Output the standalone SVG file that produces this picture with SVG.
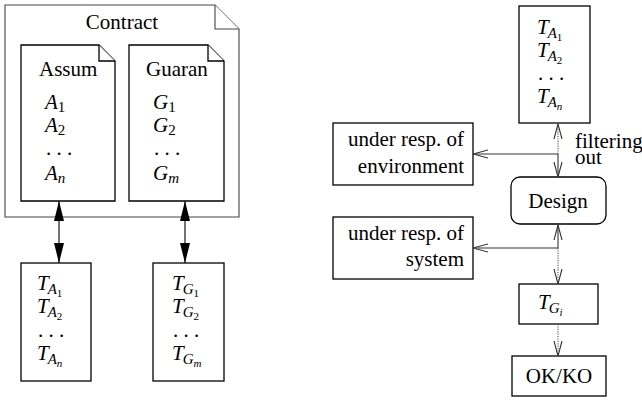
<svg xmlns="http://www.w3.org/2000/svg" width="642" height="401" viewBox="0 0 642 401">
<defs>
<marker id="fa" viewBox="0 0 20 10" refX="20" refY="5" markerWidth="20" markerHeight="10" markerUnits="userSpaceOnUse" orient="auto-start-reverse">
<path d="M0,0 L20,5 L0,10 Z" fill="#000"/>
</marker>
<marker id="oa" viewBox="0 0 15 10" refX="15" refY="5" markerWidth="15" markerHeight="10" markerUnits="userSpaceOnUse" orient="auto-start-reverse">
<path d="M0,1 L15,5 L0,9" fill="none" stroke="#333" stroke-width="1.1"/>
</marker>
</defs>

<g id="contract">
<path fill="#fff" stroke="#444" stroke-width="1.1" d="M5,5 H215 L239,29 V217 H5 Z"/>
<path fill="#fff" stroke="#444" stroke-width="1.1" d="M215,5 V29 H239"/>
<text font-family="serif" font-size="21" x="122" y="29" text-anchor="middle">Contract</text>
</g>

<g id="assum">
<path fill="#fff" stroke="#000" stroke-width="1.3" d="M21,45 H99 L115,61 V201 H21 Z"/>
<path fill="#fff" stroke="#000" stroke-width="1.3" d="M99,45 V61 H115"/>
<text font-family="serif" font-size="21" x="39" y="76">Assum</text>
<text font-family="serif" font-size="21" font-style="italic" x="45" y="109">A<tspan font-style="normal" font-size="15" dy="3">1</tspan></text>
<text font-family="serif" font-size="21" font-style="italic" x="45" y="132">A<tspan font-style="normal" font-size="15" dy="3">2</tspan></text>
<text font-family="serif" font-size="21" x="46" y="155">. . .</text>
<text font-family="serif" font-size="21" font-style="italic" x="45" y="180">A<tspan font-size="15" dy="3">n</tspan></text>
</g>

<g id="guaran">
<path fill="#fff" stroke="#000" stroke-width="1.3" d="M129,45 H208 L224,61 V201 H129 Z"/>
<path fill="#fff" stroke="#000" stroke-width="1.3" d="M208,45 V61 H224"/>
<text font-family="serif" font-size="21" x="146" y="76">Guaran</text>
<text font-family="serif" font-size="21" font-style="italic" x="153" y="109">G<tspan font-style="normal" font-size="15" dy="3">1</tspan></text>
<text font-family="serif" font-size="21" font-style="italic" x="153" y="132">G<tspan font-style="normal" font-size="15" dy="3">2</tspan></text>
<text font-family="serif" font-size="21" x="154" y="155">. . .</text>
<text font-family="serif" font-size="21" font-style="italic" x="153" y="180">G<tspan font-size="15" dy="3">m</tspan></text>
</g>

<g id="ta-left">
<rect fill="#fff" stroke="#000" stroke-width="1.3" x="21" y="263" width="70" height="118"/>
<text font-family="serif" font-size="21" font-style="italic" x="37" y="290">T<tspan font-size="15" dy="4" dx="-1">A</tspan><tspan font-style="normal" font-size="11" dy="3">1</tspan></text>
<text font-family="serif" font-size="21" font-style="italic" x="37" y="313">T<tspan font-size="15" dy="4" dx="-1">A</tspan><tspan font-style="normal" font-size="11" dy="3">2</tspan></text>
<text font-family="serif" font-size="21" x="38" y="337">. . .</text>
<text font-family="serif" font-size="21" font-style="italic" x="37" y="360">T<tspan font-size="15" dy="4" dx="-1">A</tspan><tspan font-size="11" dy="3">n</tspan></text>
</g>

<g id="tg-left">
<rect fill="#fff" stroke="#000" stroke-width="1.3" x="153" y="263" width="71" height="118"/>
<text font-family="serif" font-size="21" font-style="italic" x="172" y="290">T<tspan font-size="15" dy="4" dx="-1">G</tspan><tspan font-style="normal" font-size="11" dy="3">1</tspan></text>
<text font-family="serif" font-size="21" font-style="italic" x="172" y="313">T<tspan font-size="15" dy="4" dx="-1">G</tspan><tspan font-style="normal" font-size="11" dy="3">2</tspan></text>
<text font-family="serif" font-size="21" x="173" y="337">. . .</text>
<text font-family="serif" font-size="21" font-style="italic" x="172" y="360">T<tspan font-size="15" dy="4" dx="-1">G</tspan><tspan font-size="11" dy="3">m</tspan></text>
</g>

<g id="ta-right">
<rect fill="#fff" stroke="#000" stroke-width="1.3" x="519" y="6" width="71" height="117"/>
<text font-family="serif" font-size="21" font-style="italic" x="537" y="34">T<tspan font-size="15" dy="4" dx="-1">A</tspan><tspan font-style="normal" font-size="11" dy="3">1</tspan></text>
<text font-family="serif" font-size="21" font-style="italic" x="537" y="57">T<tspan font-size="15" dy="4" dx="-1">A</tspan><tspan font-style="normal" font-size="11" dy="3">2</tspan></text>
<text font-family="serif" font-size="21" x="538" y="80">. . .</text>
<text font-family="serif" font-size="21" font-style="italic" x="537" y="103">T<tspan font-size="15" dy="4" dx="-1">A</tspan><tspan font-size="11" dy="3">n</tspan></text>
</g>

<g id="env">
<rect fill="#fff" stroke="#000" stroke-width="1.3" x="333" y="123" width="140" height="62"/>
<text font-family="serif" font-size="21" x="464" y="146" text-anchor="end">under resp. of</text>
<text font-family="serif" font-size="21" x="464" y="173" text-anchor="end">environment</text>
</g>

<g id="design">
<rect fill="#fff" stroke="#000" stroke-width="1.3" x="511" y="177" width="95" height="47" rx="9"/>
<text font-family="serif" font-size="21" x="558" y="208" text-anchor="middle">Design</text>
</g>

<g id="sys">
<rect fill="#fff" stroke="#000" stroke-width="1.3" x="333" y="217" width="140" height="62"/>
<text font-family="serif" font-size="21" x="464" y="240" text-anchor="end">under resp. of</text>
<text font-family="serif" font-size="21" x="464" y="266" text-anchor="end">system</text>
</g>

<g id="tgi">
<rect fill="#fff" stroke="#000" stroke-width="1.3" x="519" y="284" width="79" height="40"/>
<text font-family="serif" font-size="21" font-style="italic" x="538" y="309">T<tspan font-size="15" dy="4" dx="-1">G</tspan><tspan font-size="11" dy="3">i</tspan></text>
</g>

<g id="okko">
<rect fill="#fff" stroke="#000" stroke-width="1.3" x="512" y="356" width="94" height="40"/>
<text font-family="serif" font-size="21" x="559" y="383" text-anchor="middle">OK/KO</text>
</g>

<g id="label">
<text font-family="serif" font-size="21" x="575" y="148">filtering</text>
<text font-family="serif" font-size="21" x="575" y="164">out</text>
</g>

<g id="connectors">
<line x1="59" y1="201" x2="59" y2="263" stroke="#000" stroke-width="1.1" marker-start="url(#fa)" marker-end="url(#fa)"/>
<line x1="185" y1="201" x2="185" y2="263" stroke="#000" stroke-width="1.1" marker-start="url(#fa)" marker-end="url(#fa)"/>
<line stroke="#555" stroke-width="1.1" stroke-dasharray="1.2,1.2" x1="558" y1="154" x2="558" y2="124" marker-end="url(#oa)"/>
<line stroke="#333" stroke-width="1.1" x1="558" y1="154" x2="558" y2="177" marker-end="url(#oa)"/>
<line stroke="#333" stroke-width="1.1" x1="558" y1="154" x2="473" y2="154" marker-end="url(#oa)"/>
<line stroke="#333" stroke-width="1.1" x1="558" y1="248" x2="558" y2="225" marker-end="url(#oa)"/>
<line stroke="#555" stroke-width="1.1" stroke-dasharray="1.2,1.2" x1="558" y1="248" x2="558" y2="284" marker-end="url(#oa)"/>
<line stroke="#333" stroke-width="1.1" x1="558" y1="248" x2="473" y2="248" marker-end="url(#oa)"/>
<line stroke="#555" stroke-width="1.1" stroke-dasharray="1.2,1.2" x1="558" y1="324" x2="558" y2="356" marker-end="url(#oa)"/>
</g>
</svg>
